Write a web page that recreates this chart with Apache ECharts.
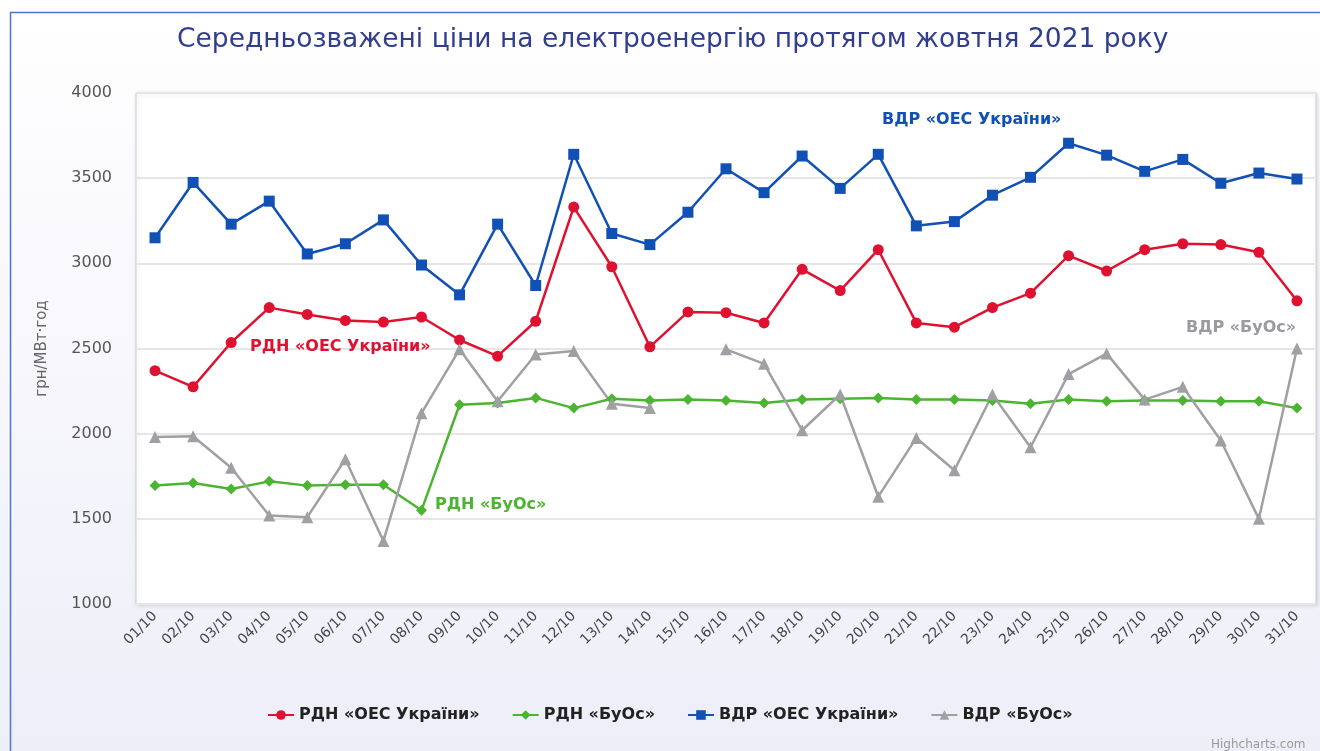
<!DOCTYPE html>
<html>
<head>
<meta charset="utf-8">
<script src="https://cdn.jsdelivr.net/npm/echarts@6/dist/echarts.min.js"></script>
<style>
html,body{margin:0;padding:0;background:#fff;}
#c{width:1320px;height:751px;}
</style>
</head>
<body>
<div id="c"></div>
<script>
const categories = ['01/10','02/10','03/10','04/10','05/10','06/10','07/10','08/10','09/10','10/10','11/10','12/10','13/10','14/10','15/10','16/10','17/10','18/10','19/10','20/10','21/10','22/10','23/10','24/10','25/10','26/10','27/10','28/10','29/10','30/10','31/10'];
const rdnOes = [2370,2275,2535,2740,2700,2665,2655,2685,2550,2455,2660,3330,2980,2510,2715,2710,2650,2965,2840,3080,2650,2625,2740,2825,3045,2955,3080,3115,3110,3065,2780];
const rdnBuos = [1695,1710,1675,1720,1695,1700,1700,1550,2170,2180,2210,2150,2205,2195,2200,2195,2180,2200,2205,2210,2200,2200,2195,2175,2200,2190,2195,2195,2190,2190,2150];
const vdrOes = [3150,3475,3230,3365,3055,3115,3255,2990,2815,3230,2870,3640,3175,3110,3300,3555,3415,3630,3440,3640,3220,3245,3400,3505,3705,3635,3540,3610,3470,3530,3495];
const vdrBuos = [1980,1985,1800,1520,1510,1850,1370,2120,2495,2190,2465,2485,2175,2150,null,2495,2410,2020,2230,1630,1975,1785,2230,1920,2350,2470,2200,2275,1960,1500,2500];
const seriesNames = ['РДН «ОЕС України»','РДН «БуОс»','ВДР «ОЕС України»','ВДР «БуОс»'];
const yTicks = {min:1000, max:4000, interval:500};

const colors = ['#de1230','#4bb430','#1150b5','#a0a0a4'];
const font = 'DejaVu Sans';

const chart = echarts.init(document.getElementById('c'), null, {renderer:'canvas'});
function mk(name, data, color, symbol, size){
  return {
    name, type:'line', data, color,
    symbol, symbolSize:size,
    connectNulls:false,
    lineStyle:{width:2.5, color},
    itemStyle:{color},
    emphasis:{disabled:true},
    animation:false
  };
}
chart.setOption({
  animation:false,
  backgroundColor:{type:'linear',x:0,y:0,x2:0,y2:1,colorStops:[{offset:0,color:'#ffffff'},{offset:1,color:'#eeeef9'}]},
  title:{
    text:'Середньозважені ціни на електроенергію протягом жовтня 2021 року',
    left:172, top:22,
    textStyle:{color:'#313d8f', fontFamily:font, fontSize:26.5, fontWeight:'normal'}
  },
  grid:{left:136, right:4, top:93, bottom:147, show:true, backgroundColor:'#ffffff', borderColor:'#d0d0d8', borderWidth:1,
        shadowColor:'rgba(0,0,0,0.15)', shadowBlur:4, shadowOffsetX:1, shadowOffsetY:1},
  legend:{
    bottom:23, left:262, itemGap:32, itemWidth:26, itemHeight:12,
    textStyle:{color:'#222', fontFamily:font, fontSize:16, fontWeight:'bold'},
    data:seriesNames
  },
  xAxis:{
    type:'category', data:categories, boundaryGap:true,
    axisLine:{show:false}, axisTick:{show:false},
    axisLabel:{rotate:45, interval:0, color:'#444', fontFamily:font, fontSize:14, margin:10}
  },
  yAxis:{
    type:'value', min:yTicks.min, max:yTicks.max, interval:yTicks.interval,
    name:'грн/МВт·год', nameLocation:'middle', nameGap:86,
    nameTextStyle:{color:'#666', fontFamily:font, fontSize:15},
    axisLine:{show:false}, axisTick:{show:false},
    axisLabel:{color:'#555', fontFamily:font, fontSize:16, margin:24, formatter:function(v){return String(v);}},
    splitLine:{lineStyle:{color:'#e6e6e6', width:2}}
  },
  series:[
    mk(seriesNames[0], rdnOes, colors[0], 'circle', 11),
    mk(seriesNames[1], rdnBuos, colors[1], 'diamond', 11),
    mk(seriesNames[2], vdrOes, colors[2], 'rect', 11),
    mk(seriesNames[3], vdrBuos, colors[3], 'triangle', 12)
  ],
  graphic:[
    {type:'rect', left:8, top:10, z:100, shape:{width:1400, height:800}, style:{fill:'none', stroke:'#4d74cf', lineWidth:1.5}, silent:true},
    {type:'text', left:882, top:112, z:100, style:{text:seriesNames[2], fill:colors[2], font:'bold 16px "DejaVu Sans"'}},
    {type:'text', left:250, top:339, z:100, style:{text:seriesNames[0], fill:colors[0], font:'bold 16px "DejaVu Sans"'}},
    {type:'text', left:435, top:497, z:100, style:{text:seriesNames[1], fill:colors[1], font:'bold 16px "DejaVu Sans"'}},
    {type:'text', left:1186, top:320, z:100, style:{text:seriesNames[3], fill:'#9a9aa0', font:'bold 16px "DejaVu Sans"'}},
    {type:'text', left:1211, top:739, z:100, style:{text:'Highcharts.com', fill:'#999', font:'12px "DejaVu Sans"'}}
  ]
});
</script>
</body>
</html>
